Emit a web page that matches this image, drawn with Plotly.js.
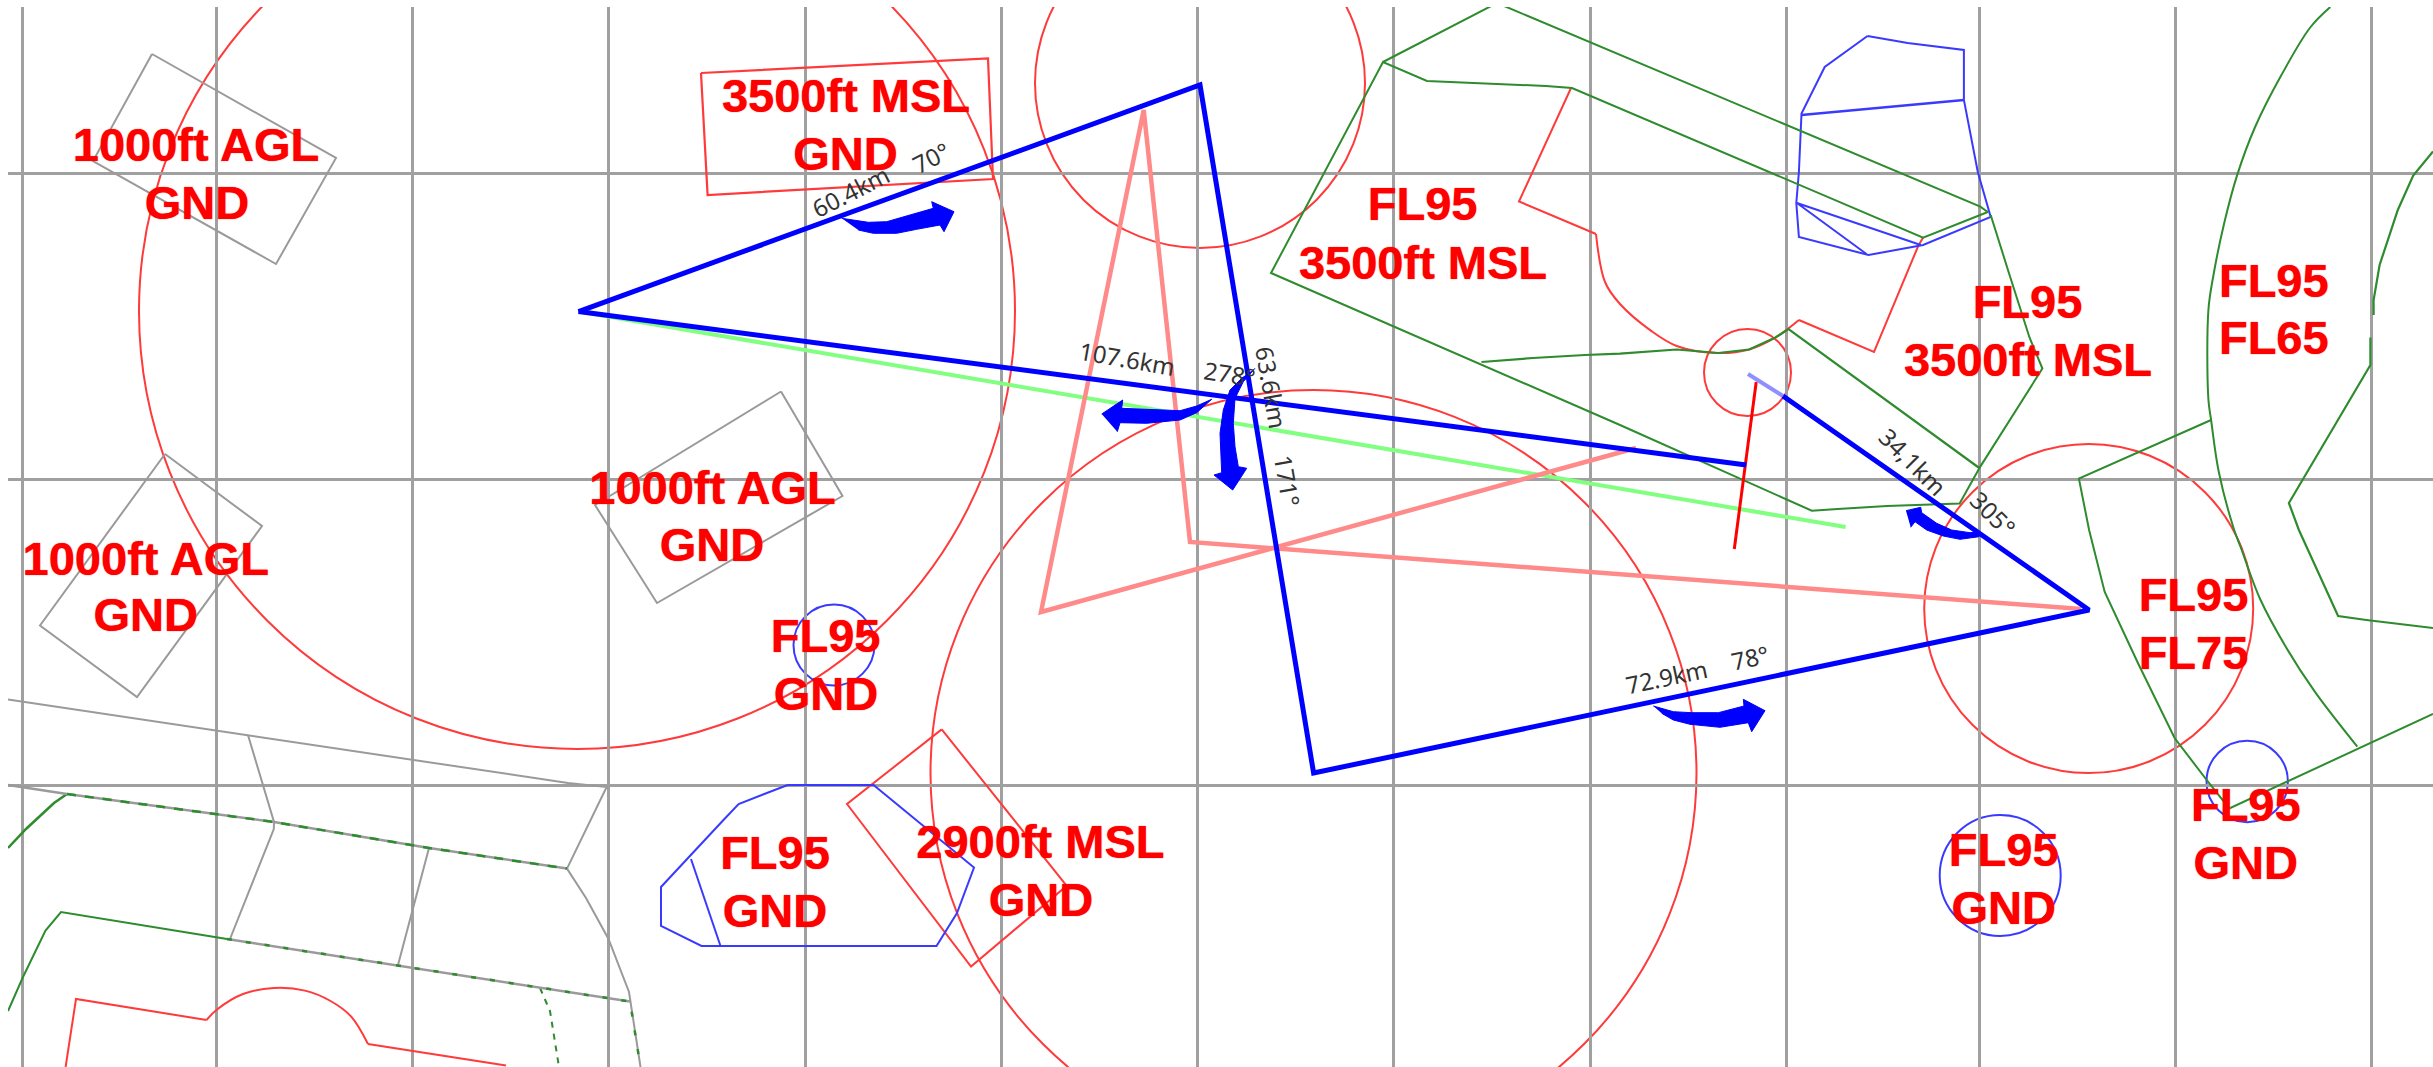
<!DOCTYPE html>
<html>
<head>
<meta charset="utf-8">
<script src="https://cdn.plot.ly/plotly-3.0.1.min.js"></script>
<style>html,body{margin:0;padding:0;background:#fff}#chart{width:2433px;height:1067px}</style>
</head>
<body>
<div id="chart"></div>
<script>
// Graticule positions
const gridX = [22.7, 216.4, 412.7, 608.7, 805, 1001, 1197.4, 1393.7, 1590, 1786, 1979.3, 2175.8, 2371.8];
const gridY = [173, 479, 785];

// Airspace labels, one row per text line
const labelText = ["1000ft AGL","GND","3500ft MSL","GND","FL95","3500ft MSL","FL95","3500ft MSL","FL95","FL65",
  "1000ft AGL","GND","1000ft AGL","GND","FL95","GND","FL95","GND","2900ft MSL","GND","FL95","GND","FL95","GND","FL95","FL75"];
const labelX = [196,197,846,845.5,1422.6,1423,2027.5,2028,2273.8,2273.8,
  712.5,712,145.8,145.7,825.6,826,775,775,1040.4,1041,2003.7,2003.7,2245.8,2245.8,2193.5,2193.5];
const labelY = [149,207,100.5,158,208,267,306,364,285,342,
  492.5,549.5,563,619,640,698,857.5,915,846,904.5,854.5,912,809,867,599,657];

// Leg measurements
const legText = ["60.4km","70°","107.6km","278°","63.6km","171°","34,1km","305°","72.9km","78°"];
const legX = [850,931,1127.7,1229.4,1272,1288,1913.2,1993.3,1666.7,1749.6];
const legY = [191,157,358,373.6,387,480,461,513,676,657];
const legAngle = [-27,-27,10,9,80,80,45,45,-12,-12];

// Circles: centre x, centre y, radius
const redCircles = [[577,311,438],[1200,83,165],[1313.5,773,383],[2088.7,608.5,164.5],[1747.5,372.5,43.5]];
const blueCircles = [[834,645,40.5],[2000.2,875.5,60.5],[2247.2,781.5,40.7]];

// Task route
const routeOuter = [[578.5,311.6],[1200,85],[1313.6,773],[2089.1,610],[1783,396]];
const routeInner = [[578.5,311.6],[1746.2,465]];
const routeFade = [[1783,396],[1748,374]];
const trackGreen = [[578.5,311.6],[1845.6,527]];
const pinkLeft = [[1636,448],[1041,612],[1143.7,110],[1190,542],[2081.2,609]];
const redStick = [[1756.2,382],[1734.3,549]];

// Turn arrows
const arrowA = [[841.7,218.3],[868.3,222.3],[886.7,221.7],[910,215],[933.3,208.3],[931.7,201.7],[954,211.7],[944,231.7],[940,225],[916.7,229.3],[896.7,233.3],[873.3,233.3],[858.3,230]];
const arrowB = [[1653.3,706],[1673.3,711.7],[1691.7,712.7],[1718.3,712.7],[1744,706],[1743.3,699.3],[1765,710.7],[1751.7,731.7],[1748.3,722.7],[1720,727.3],[1690,724.3],[1673.3,720],[1661.7,713.3]];
const arrowC = [[1101.7,414],[1122.7,400],[1121.7,408.3],[1160,410],[1180,410.7],[1196.7,406],[1211.7,399.3],[1196.7,412.7],[1180,420],[1146.7,423.3],[1120,422.7],[1117.3,431.7]];
const arrowD = [[1255,368.3],[1243.3,381.7],[1235,398.3],[1233.3,423.3],[1235,446.7],[1238.3,466.7],[1246.7,468.3],[1232.7,490],[1214,475],[1221.7,472.7],[1220,433.3],[1223.3,410],[1230,390],[1243.3,376.7]];
const arrowE = [[1906,510.7],[1920.7,507.3],[1921.7,512.7],[1936.7,523.3],[1951.7,530],[1970,532.7],[1979.3,531.7],[1979,536.7],[1960,539.3],[1943.3,536],[1926.7,530],[1915,521.7],[1910.7,527.3]];

// Red airspace outlines
const redBox3500 = [[701,73],[988,58.5],[993,179],[707.6,195],[701,73]];
const redBox2900 = [[941.7,729.4],[847,804],[971,966.6],[1066.7,885.8],[941.7,729.4]];
const redCurveA = [[1571,88],[1519,201.5],[1596,234]];
const redCurveArc = [[1596,234],[1605,282],[1620,304],[1650.8,330.6],[1676.7,346],[1715.9,353],[1749.2,349.5],[1775.5,337.5],[1798.9,320]];
const redCurveB = [[1798.9,320],[1874,352],[1918.2,246],[1923.1,237.6]];
const redBottomA = [[65.6,1067],[76,999],[206.6,1020]];
const redBottomArc = [[206.6,1020],[217,1009.5],[243,994],[274,988],[305,990.6],[330.6,1001],[351,1016.4],[368,1044]];
const redBottomB = [[368,1044],[506,1065.6]];

// Green airspace outlines
const greenTop = [[1383,62],[1497,3],[1980.3,206.6],[1987.8,212],[1923.1,237.6],[1620,108.5],[1572,88],[1546,86],[1497,84],[1453,82],[1427,81],[1383,62],[1271,273],[1620,425],[1811.8,510.7],[1837.7,509],[1887,506],[1959.6,503.4],[1980.3,466.6],[2042.4,368.5],[2029.5,337.5],[2008.6,272],[1990.7,215]];
const greenInner = [[1481.5,362],[1533,358],[1585,355],[1620,353.6],[1676.7,349.5],[1718.4,353],[1749.2,349.5],[1775.5,337.5],[1788.5,329],[1979.3,468]];
const greenArcA = [[2330.3,7],[2310.2,27.5],[2281,75.8],[2255.1,127],[2237,175.6],[2224,224],[2213.4,275.5],[2208.4,310],[2208.4,399.5],[2211.1,420],[2218.8,472],[2234.2,530],[2240.6,547],[2260.1,599],[2285.9,647],[2314.8,691.6],[2357.3,746.6]];
const greenBranch = [[2211.1,420],[2078.9,478.7],[2089.1,530],[2104.7,592],[2138.4,664],[2174.6,738],[2205.9,779],[2229.3,808.4],[2433,714]];
const greenArcB = [[2433,151.5],[2413.2,175.6],[2397.8,210],[2387.5,241],[2379.6,265],[2373.6,300],[2373.6,315],[null,null],[2370.4,337.5],[2370.4,365],[2288.9,503],[2298.9,530],[2338.1,616],[2366.4,620],[2433,628]];
const greenLeftA = [[8,1011],[23,977],[45.5,930.5],[61,912],[227,939]];
const greenLeftB = [[540,988],[550,1011],[559,1067]];
const greenLeftC = [[8,848],[26,829],[54,803],[67,794]];
const greenDashA = [[67,794],[274,822],[429,848],[567,868.6]];
const greenDashB = [[227,939],[630,1001.6],[640.5,1067]];

// Blue airspace outlines
const blueTop = [[1867.5,36],[1907.7,43],[1963.9,50],[1963.9,100],[1977.8,172],[1990.7,217],[1923.1,245],[1868.5,255],[1798.9,237],[1796.3,203],[1798.9,172],[1801.5,113.6],[1824.7,67],[1867.5,36]];
const blueTopA = [[1801.5,115],[1963.9,100]];
const blueTopB = [[1866.5,254],[1796.9,203],[1920.8,245]];
const blueLow = [[787.7,785],[738.6,804],[723,820.5],[661,887],[661,926],[701.5,946],[936.5,946],[957,913],[974,867.6],[873.5,785],[787.7,785]];
const blueLowA = [[691,859],[720.5,946]];

// Grey outlines
const greyBoxA = [[152,54],[336,158],[276,264],[93,161],[152,54]];
const greyBoxB = [[781,391.5],[842.5,496],[657,603],[595,505],[781,391.5]];
const greyBoxC = [[165,454],[262,526],[137,697],[40,625.5],[165,454]];
const greyLineA = [[8,699.5],[248,735],[568,783],[607,787],[605.4,789.5],[567,868.6],[586,898],[608.5,939],[629,992],[640.5,1067]];
const greyLineB = [[8,785],[67,794],[274,822],[429,848],[567,868.6]];
const greyLineC = [[248,735],[274,822],[273.8,829],[230,939]];
const greyLineD = [[429,848],[398,965]];
const greyLineE = [[227,939],[630,1001.6]];

const RED = "#ff3a3a", GREEN = "#2e8b2e", BLUE = "#3a3aff", GREY = "#9a9a9a";
const AXIS = {showline:false, zeroline:false, ticks:"", showticklabels:false, showgrid:true, gridcolor:"#a0a0a0", gridwidth:3, fixedrange:true};

function line(name, pts, color, width, dash, shape) {
  return {type:"scatter", mode:"lines", name:name, x:pts.map(p=>p[0]), y:pts.map(p=>p[1]),
    line:{color:color, width:width, dash:dash||"solid", shape:shape||"linear"}, hoverinfo:"skip", connectgaps:false};
}
function arrow(name, pts) {
  return {type:"scatter", mode:"lines", name:name, x:pts.map(p=>p[0]), y:pts.map(p=>p[1]), fill:"toself",
    fillcolor:"#0000ff", line:{color:"#0000ff", width:1}, hoverinfo:"skip"};
}
function circle(c, color) {
  return {type:"circle", xref:"x", yref:"y", x0:c[0]-c[2], x1:c[0]+c[2], y0:c[1]-c[2], y1:c[1]+c[2],
    line:{color:color, width:2}, layer:"below"};
}

const traces = [
  line("greyBoxA",greyBoxA,GREY,2), line("greyBoxB",greyBoxB,GREY,2), line("greyBoxC",greyBoxC,GREY,2),
  line("greenLeftA",greenLeftA,GREEN,2), line("greenLeftB",greenLeftB,GREEN,2,"6px,6px"), line("greenLeftC",greenLeftC,GREEN,2.5),
  line("greyLineA",greyLineA,GREY,2), line("greyLineB",greyLineB,GREY,2.5), line("greyLineC",greyLineC,GREY,2),
  line("greyLineD",greyLineD,GREY,2), line("greyLineE",greyLineE,GREY,2.5),
  line("greenDashA",greenDashA,GREEN,2.5,"9px,9px"), line("greenDashB",greenDashB,GREEN,2.5,"5px,14px"),
  line("redBottomA",redBottomA,RED,2), line("redBottomArc",redBottomArc,RED,2,"solid","spline"), line("redBottomB",redBottomB,RED,2),
  line("redBox3500",redBox3500,RED,2.2), line("redBox2900",redBox2900,RED,2),
  line("redCurveA",redCurveA,RED,2), line("redCurveArc",redCurveArc,RED,2,"solid","spline"), line("redCurveB",redCurveB,RED,2),
  line("blueTop",blueTop,BLUE,2), line("blueTopA",blueTopA,BLUE,2.4), line("blueTopB",blueTopB,BLUE,2),
  line("blueLow",blueLow,BLUE,2), line("blueLowA",blueLowA,BLUE,2),
  line("greenTop",greenTop,GREEN,2), line("greenInner",greenInner,GREEN,2.2),
  line("greenArcA",greenArcA,GREEN,2,"solid","spline"), line("greenBranch",greenBranch,GREEN,2), line("greenArcB",greenArcB,GREEN,2.2),
  line("trackGreen",trackGreen,"#80ff80",4), line("pinkLeft",pinkLeft,"#ff8a8a",4.5), line("redStick",redStick,"#ff0000",3),
  line("routeFade",routeFade,"#8f8fff",4), line("routeOuter",routeOuter,"#0000ff",5), line("routeInner",routeInner,"#0000ff",5),
  arrow("arrowA",arrowA), arrow("arrowB",arrowB), arrow("arrowC",arrowC), arrow("arrowD",arrowD), arrow("arrowE",arrowE),
  {type:"scatter", mode:"text", name:"labels", x:labelX, y:labelY, text:labelText, textposition:"middle center",
   textfont:{family:"Liberation Sans", size:47, color:"#ff0000", weight:700, shadow:"0 0 1px #ff0000"}, hoverinfo:"skip", cliponaxis:false}
];

const annotations = legText.map((t,i)=>({xref:"x", yref:"y", x:legX[i], y:legY[i], text:t, textangle:legAngle[i],
  showarrow:false, font:{family:"Noto Sans", size:24, color:"#333333"}, xanchor:"center", yanchor:"middle"}));

const layout = {
  width:2433, height:1067, showlegend:false, paper_bgcolor:"#ffffff", plot_bgcolor:"#ffffff",
  margin:{l:8, r:0, t:7, b:0, pad:0},
  xaxis:Object.assign({range:[8,2433], tickvals:gridX}, AXIS),
  yaxis:Object.assign({range:[1067,7], tickvals:gridY}, AXIS),
  shapes:redCircles.map(c=>circle(c,RED)).concat(blueCircles.map(c=>circle(c,BLUE))),
  annotations:annotations
};
Plotly.newPlot("chart", traces, layout, {displayModeBar:false, staticPlot:true});
</script>
</body>
</html>
